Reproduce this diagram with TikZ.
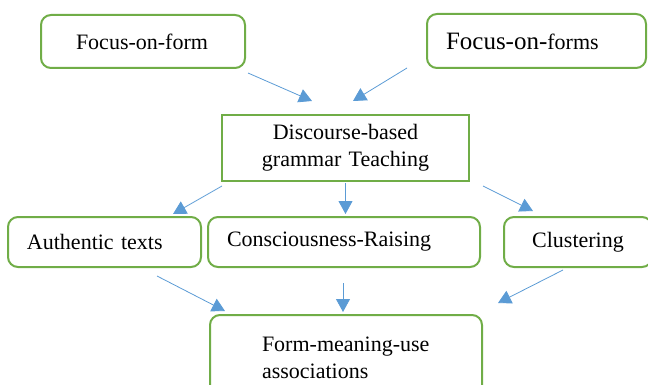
\documentclass[tikz,border=0pt]{standalone}
\usepackage{fontspec}
\setmainfont{Liberation Serif}
\usetikzlibrary{arrows.meta}
\definecolor{boxgreen}{RGB}{112,173,71}
\definecolor{arrowblue}{RGB}{91,155,213}

\begin{document}
\begin{tikzpicture}[
  x=1pt, y=-1pt,
  font=\fontsize{22}{27}\selectfont,
  box/.style={draw=boxgreen, line width=2pt, rounded corners=10pt,
    align=left, inner xsep=19pt, inner ysep=0pt, fill=white},
  line/.style={-{Triangle[length=13pt,width=14pt]}, line width=.8pt,
    color=arrowblue}
]
\useasboundingbox (0,0) rectangle (648,385);
\clip (0,0) rectangle (648,385);
% top row
\node[box, text width=134pt, inner xsep=35pt, minimum height=53pt]
  (fof) at (143,41.5) {Focus-on-form};
\node[box, text width=181pt, minimum height=54pt]
  (fofs) at (536.5,41) {{\fontsize{25}{27}\selectfont Focus-on-}forms};
% centre
\node[box, sharp corners, text width=209pt, align=center,
  minimum height=66pt] (dbg) at (345.5,148)
  {Discourse-based\\grammar Teaching};
% middle row
\node[box, text width=155pt, minimum height=50pt]
  (auth) at (104.5,242) {Authentic texts};
\node[box, text width=234pt, minimum height=50pt]
  (cr) at (344,242) {Consciousness-Raising};
\node[box, text width=110pt, align=center, minimum height=50pt]
  (clus) at (578,242) {Clustering};
% bottom
\node[box, text width=168pt, inner xsep=52pt, minimum height=85pt]
  (fmu) at (346,357.5) {Form-meaning-use\\associations};
% arrows
\draw[line] ([shift={(2,4)}]fof.south east) --
  ([shift={(-33.5,-13)}]dbg.north);
\draw[line] ([shift={(-19,-1)}]fofs.south west) --
  ([shift={(7.5,-13)}]dbg.north);
\draw[line] ([shift={(1,4)}]dbg.south west) --
  ([shift={(68.5,-2)}]auth.north);
\draw[line] ([shift={(0,1)}]dbg.south) -- ([shift={(0,-2)}]dbg.south |- cr.north);
\draw[line] ([shift={(13,4)}]dbg.south east) --
  ([shift={(-45,-5)}]clus.north);
\draw[line] ([shift={(52.5,8)}]auth.south) --
  ([shift={(16,-3)}]fmu.north west);
\draw[line] ([shift={(-1,15)}]cr.south) -- ([shift={(-3,-2)}]fmu.north);
\draw[line] ([shift={(-15,2)}]clus.south) --
  ([shift={(15,-11)}]fmu.north east);
\end{tikzpicture}
\end{document}
